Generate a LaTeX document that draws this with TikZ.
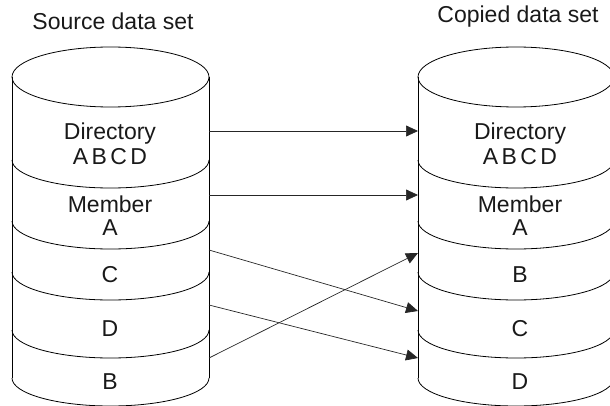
\documentclass[tikz,border=0pt]{standalone}
\usepackage{fontspec}
\setmainfont{Liberation Sans}
\usetikzlibrary{arrows.meta}
\begin{document}
\begin{tikzpicture}[x=1pt,y=-1pt,
  lbl/.style={font=\fontsize{23}{25}\selectfont, inner sep=0pt, text=black!90},
  cyl/.style={line width=0.8pt, draw=black},
  link/.style={line width=0.7pt, draw=black!85, -{Triangle[length=12pt,width=11pt]}}]
\useasboundingbox (0,0) rectangle (610,406);
\clip (0,0) rectangle (610,406);
% left cylinder
\draw[cyl] (12,77) -- (12,378);
\draw[cyl] (209,77) -- (209,378);
\draw[cyl] (110.5,77) ellipse [x radius=98.5pt, y radius=30pt];
\foreach \L in {160,221,272,330,378}{
  \draw[cyl] (12,\L) arc[start angle=180, end angle=360, x radius=98.5pt, y radius=28pt];
}
% right cylinder (right side falls outside the frame)
\draw[cyl] (418,77) -- (418,378);
\draw[cyl] (516,77) ellipse [x radius=98pt, y radius=30pt];
\foreach \L in {160,221,272,330,378}{
  \draw[cyl] (418,\L) arc[start angle=180, end angle=360, x radius=98pt, y radius=28pt];
}
% titles
\node[lbl] (tsrc) at (113,21) {Source data set};
\node[lbl] (tcpy) at (518,17) {Copied data set};
% left labels
\node[lbl] (sdir) at (110,134) {Directory};
\node[lbl] (sabcd) at (110,157) {A\hspace{0.15em}B\hspace{0.15em}C\hspace{0.15em}D};
\node[lbl] (smem) at (110,204) {Member};
\node[lbl] (sa) at (110,228) {A};
\node[lbl] (sc) at (110,275) {C};
\node[lbl] (sd) at (110,329) {D};
\node[lbl] (sb) at (110,382) {B};
% right labels
\node[lbl] (cdir) at (520,134) {Directory};
\node[lbl] (cabcd) at (520,157) {A\hspace{0.15em}B\hspace{0.15em}C\hspace{0.15em}D};
\node[lbl] (cmem) at (520,204) {Member};
\node[lbl] (ca) at (520,228) {A};
\node[lbl] (cb) at (520,275) {B};
\node[lbl] (cc) at (520,329) {C};
\node[lbl] (cd) at (520,382) {D};
% connector endpoints
\coordinate (s1) at (209,131); \coordinate (t1) at (418,131);
\coordinate (s2) at (209,195); \coordinate (t2) at (418,195);
\coordinate (s3) at (209,250); \coordinate (t3) at (418,311);
\coordinate (s4) at (209,305); \coordinate (t4) at (418,358);
\coordinate (s5) at (209,358); \coordinate (t5) at (418,253);
\draw[link] (s1) -- (t1);
\draw[link] (s2) -- (t2);
\draw[link] (s3) -- (t3);
\draw[link] (s4) -- (t4);
\draw[link] (s5) -- (t5);
\end{tikzpicture}
\end{document}
